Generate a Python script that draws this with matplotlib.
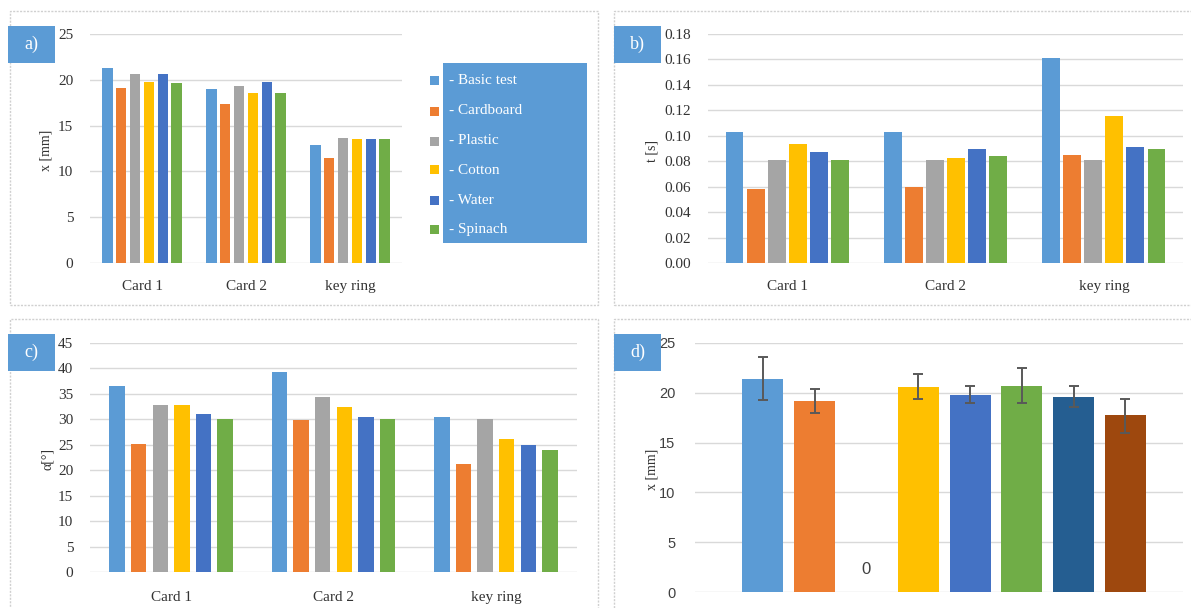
import matplotlib
matplotlib.use('Agg')
import matplotlib.pyplot as plt
from matplotlib.patches import Rectangle
from matplotlib.ticker import FormatStrFormatter

# ---------------- data ----------------
categories = ['Card 1', 'Card 2', 'key ring']
series = ['Basic test', 'Cardboard', 'Plastic', 'Cotton', 'Water', 'Spinach']
colors = ['#5B9BD5', '#ED7D31', '#A5A5A5', '#FFC000', '#4472C4', '#70AD47']

# a) displacement x [mm]
a_basic = [21.3, 18.95, 12.85]
a_cardboard = [19.1, 17.4, 11.45]
a_plastic = [20.6, 19.3, 13.7]
a_cotton = [19.8, 18.6, 13.5]
a_water = [20.6, 19.8, 13.5]
a_spinach = [19.6, 18.6, 13.5]

# b) time t [s]
b_basic = [0.103, 0.103, 0.161]
b_cardboard = [0.058, 0.0595, 0.085]
b_plastic = [0.081, 0.081, 0.081]
b_cotton = [0.0935, 0.0825, 0.1155]
b_water = [0.0875, 0.090, 0.091]
b_spinach = [0.081, 0.084, 0.090]

# c) angle alpha [deg]
c_basic = [36.5, 39.3, 30.4]
c_cardboard = [25.2, 29.9, 21.2]
c_plastic = [32.8, 34.4, 30.1]
c_cotton = [32.8, 32.5, 26.1]
c_water = [31.0, 30.4, 24.95]
c_spinach = [30.1, 30.1, 24.0]

# d) x [mm] with error bars
d_values = [21.35, 19.2, 0.0, 20.55, 19.8, 20.7, 19.6, 17.75]
d_err_low = [2.05, 1.2, 0.0, 1.15, 0.85, 1.75, 1.0, 1.8]
d_err_high = [2.25, 1.15, 0.0, 1.35, 0.85, 1.8, 1.05, 1.65]
d_colors = ['#5B9BD5', '#ED7D31', '#A5A5A5', '#FFC000', '#4472C4', '#70AD47', '#255E91', '#9E480E']

# ---------------- layout ----------------
plt.rcParams['font.family'] = ['Liberation Serif', 'DejaVu Serif']
W, H = 1191, 608
fig = plt.figure(figsize=(W / 100, H / 100), dpi=100)
TXT = '#333333'
GRID = '#d9d9d9'
BLUE = '#5B9BD5'


def axpx(l, t, r, b):
    return fig.add_axes([l / W, 1 - b / H, (r - l) / W, (b - t) / H])


def frame(l, t, r, b):
    fig.patches.append(Rectangle((l / W, 1 - b / H), (r - l) / W, (b - t) / H,
                                 transform=fig.transFigure, fill=False,
                                 edgecolor='#d0d0d0', lw=1.0, ls=(0, (1.5, 1.0))))


def label_box(l, t, r, b, txt):
    fig.patches.append(Rectangle((l / W, 1 - b / H), (r - l) / W, (b - t) / H,
                                 transform=fig.transFigure, facecolor=BLUE,
                                 edgecolor='none'))
    fig.text((l + r) / 2 / W, 1 - (t + b) / 2 / H, txt, color='white',
             fontsize=13, ha='center', va='center')


def ylabel_px(x, y, txt, **kw):
    fig.text(x / W, 1 - y / H, txt, rotation=90, ha='center', va='center',
             color=TXT, fontsize=10, **kw)


def style(ax, ylim, yticks, ypad, xpad):
    for s in ax.spines.values():
        s.set_visible(False)
    ax.set_ylim(*ylim)
    ax.set_yticks(yticks)
    ax.grid(axis='y', color=GRID, lw=1.0)
    ax.set_axisbelow(True)
    ax.tick_params(axis='both', length=0, colors=TXT, labelsize=11)
    ax.tick_params(axis='y', pad=ypad)
    ax.tick_params(axis='x', pad=xpad)


def grouped(ax, data, width, slot=0.133):
    for i, (vals, col) in enumerate(zip(data, colors)):
        xs = [k + (i - 2.5) * slot for k in range(len(categories))]
        ax.bar(xs, vals, width=width, color=col, label='- ' + series[i])
    ax.set_xticks(range(len(categories)))
    ax.set_xticklabels(categories)
    ax.set_xlim(-0.5, len(categories) - 0.5)


# frames
frame(10, 11, 598, 305)
frame(614, 11, 1200, 305)
frame(10, 319, 598, 640)
frame(614, 319, 1200, 640)

# ---- a) ----
axa = axpx(90, 34, 402, 263)
grouped(axa, [a_basic, a_cardboard, a_plastic, a_cotton, a_water, a_spinach], 0.10)
style(axa, (0, 25), range(0, 26, 5), 12, 12)
label_box(8, 26, 55, 63, 'a)')
ylabel_px(46, 150, 'x [mm]')

# legend for a) (drawn manually: markers outside a blue box)
fig.patches.append(Rectangle((443 / W, 1 - 243 / H), (587 - 443) / W, (243 - 63) / H,
                             transform=fig.transFigure, facecolor=BLUE,
                             edgecolor='none'))
leg_y = [80, 111, 141, 170, 200, 229]
for i, (name, col) in enumerate(zip(series, colors)):
    y = leg_y[i]
    fig.patches.append(Rectangle((430 / W, 1 - (y + 4.5) / H), 8.5 / W, 9 / H,
                                 transform=fig.transFigure, facecolor=col,
                                 edgecolor='none'))
    fig.text(449 / W, 1 - y / H, '- ' + name, color='white', fontsize=11,
             ha='left', va='center')

# ---- b) ----
axb = axpx(708, 34, 1183, 263)
grouped(axb, [b_basic, b_cardboard, b_plastic, b_cotton, b_water, b_spinach], 0.113)
style(axb, (0, 0.18), [i * 0.02 for i in range(10)], 12, 12)
axb.yaxis.set_major_formatter(FormatStrFormatter('%.2f'))
label_box(614, 26, 661, 63, 'b)')
ylabel_px(652, 151, 't [s]')

# ---- c) ----
axc = axpx(90, 343, 577, 572)
grouped(axc, [c_basic, c_cardboard, c_plastic, c_cotton, c_water, c_spinach], 0.095)
style(axc, (0, 45), range(0, 46, 5), 12, 14)
label_box(8, 334, 55, 371, 'c)')
ylabel_px(48, 459, 'α[°]')

# ---- d) ----
axd = axpx(695, 343, 1183, 592)
xs = list(range(len(d_values)))
axd.bar(xs, d_values, width=0.79, color=d_colors)
ex = [x for x, v in zip(xs, d_values) if v > 0]
ev = [v for v in d_values if v > 0]
el = [e for e, v in zip(d_err_low, d_values) if v > 0]
eh = [e for e, v in zip(d_err_high, d_values) if v > 0]
axd.errorbar(ex, ev, yerr=[el, eh], fmt='none', ecolor='#595959',
             elinewidth=1.4, capsize=3.5, capthick=1.4)
for x, v in zip(xs, d_values):
    if v == 0:
        axd.annotate('0', (x, 0), xytext=(0, 16), textcoords='offset points',
                     ha='center', va='center', fontsize=12, color='#404040',
                     family=['Liberation Sans', 'DejaVu Sans'])
axd.set_xlim(-1.31, 8.11)
style(axd, (0, 25), range(0, 26, 5), 14, 0)
axd.set_xticks([])
for lab in axd.get_yticklabels():
    lab.set_family(['Liberation Sans', 'DejaVu Sans'])
    lab.set_fontsize(10.5)
    lab.set_color('#404040')
label_box(614, 334, 661, 371, 'd)')
ylabel_px(652, 469, 'x [mm]')

fig.savefig('out.png', dpi=100)
